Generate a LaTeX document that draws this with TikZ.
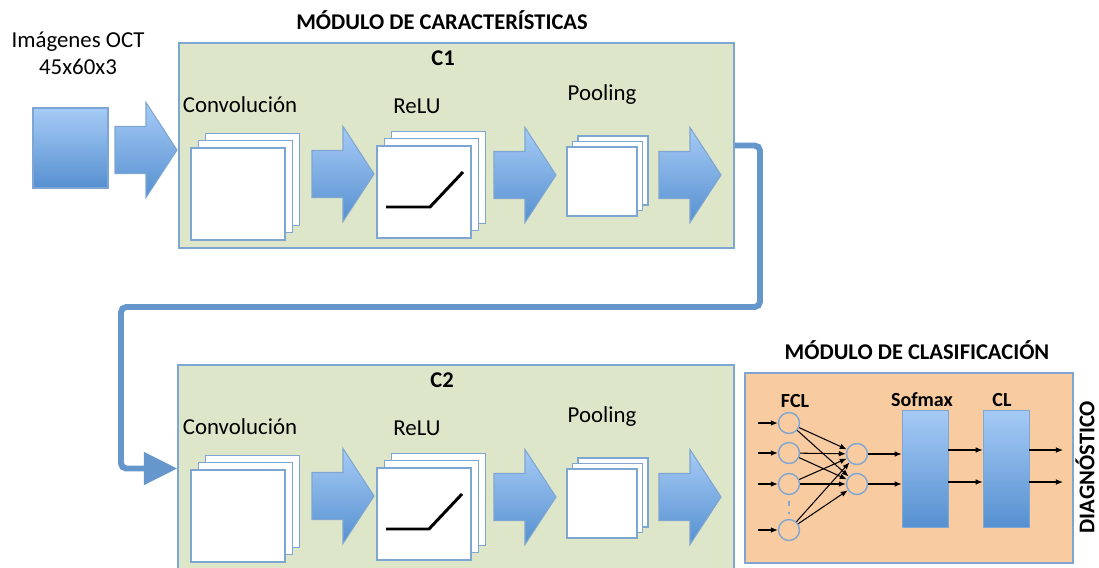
\documentclass[tikz,border=0pt]{standalone}
\usepackage{fontspec}
\setmainfont{Carlito}
\usetikzlibrary{arrows.meta,fit,calc}

\definecolor{modgreen}{RGB}{221,230,201}
\definecolor{modpeach}{RGB}{249,203,160}
\definecolor{boxedge}{RGB}{126,166,211}
\definecolor{bluetop}{RGB}{166,203,246}
\definecolor{bluebot}{RGB}{86,144,208}
\definecolor{loopblue}{RGB}{101,150,204}

\tikzset{
	modbox/.style={draw=boxedge, line width=0.8pt, inner sep=0pt},
	layer/.style={draw=boxedge, fill=white, line width=0.8pt},
	blockarrow/.style={draw=boxedge, line width=0.6pt, top color=bluetop, bottom color=bluebot},
	bar/.style={draw=boxedge, line width=0.4pt, top color=bluetop, bottom color=bluebot, inner sep=0pt},
	txt/.style={font=\fontsize{13}{15.4}\selectfont, align=center},
	title/.style={font=\bfseries\fontsize{12.8}{14}\selectfont},
	smalltitle/.style={font=\bfseries\fontsize{11.4}{13}\selectfont},
	neuron/.style={circle, draw=boxedge, line width=0.8pt, minimum size=0.42cm, inner sep=0pt},
	wire/.style={-{Latex[length=4pt,width=3.2pt]}, line width=0.6pt},
	loopline/.style={loopblue, line width=3.4pt, rounded corners=3pt, -{Triangle[length=19pt,width=18pt]}},
}

% block arrow: (left x, middle y)
\def\fatarrow(#1,#2){\path[blockarrow] (#1,#2-23.5) -- ++(31,0) -- ++(0,-24) -- ++(31,47.5) -- ++(-31,47.5) -- ++(0,-24) -- ++(-31,0) -- cycle;}
% stack of maps: (front x, front y, width, height, offset)
\def\mapstack(#1,#2,#3,#4,#5){\foreach \k in {2,1,0} \draw[layer] (#1+\k*#5, #2-\k*#5) rectangle ++(#3,#4);}

\begin{document}
\begin{tikzpicture}[x=0.02cm, y=-0.02cm]
	\useasboundingbox (0,0) rectangle (1099,568);
	
	%%%%% INPUT %%%%%
	\node[txt] (img) at (78,53) {Imágenes OCT\\45x60x3};
	\path[blockarrow] (33,108) rectangle (108,188);
	\fatarrow(115,150)
	
	%%%%% C1 %%%%%
	\node[title] (feat) at (442,20) {MÓDULO DE CARACTERÍSTICAS};
	\node[modbox, fill=modgreen, fit={(179,43) (734,248)}] (c1) {};
	\node[title] (c1lab) at (443,58) {C1};
	\node[txt] (conv1) at (240,105) {Convolución};
	\node[txt] (relu1) at (417,106) {ReLU};
	\node[txt] (pool1) at (602,95) {Pooling};
	\mapstack(191,148,94,92,7.3)
	\mapstack(377,146,94,92,7.3)
	\mapstack(567,147,70,69,5.5)
	\draw[line width=1.7pt] (386,207) -- (430,207) -- (463,172);
	\fatarrow(312,174)
	\fatarrow(494,175)
	\fatarrow(659,175)
	
	%%%%% C2 %%%%%
	\node[modbox, fill=modgreen, fit={(178,365) (734,572)}] (c2) {};
	\node[title] (c2lab) at (442,380) {C2};
	\begin{scope}[shift={(0,322)}]
		\node[txt] (conv2) at (240,105) {Convolución};
		\node[txt] (relu2) at (417,106) {ReLU};
		\node[txt] (pool2) at (602,95) {Pooling};
		\mapstack(191,148,94,92,7.3)
		\mapstack(377,146,94,92,7.3)
		\mapstack(567,147,70,69,5.5)
		\draw[line width=1.7pt] (386,207) -- (429,207) -- (462,172);
		\fatarrow(312,174)
		\fatarrow(494,175)
		\fatarrow(659,175)
	\end{scope}
	
	% loop from C1 back to C2
	\coordinate (turnA) at (760,307);
	\coordinate (turnB) at (121,307);
	\draw[loopline] (c1.east) -| (turnA) -- (turnB) |- (c2.west);
	
	%%%%% CLASIFICACION %%%%%
	\node[title] (clas) at (917,350) {MÓDULO DE CLASIFICACIÓN};
	\node[modbox, fill=modpeach, fit={(745,373) (1073,563)}] (cm) {};
	\node[smalltitle] (fcl) at (795,401) {FCL};
	\node[smalltitle] (smlab) at (922,400) {Sofmax};
	\node[smalltitle] (cllab) at (1002,400) {CL};
	
	\node[neuron] (i1) at (789,423) {};
	\node[neuron] (i2) at (789,453) {};
	\node[neuron] (i3) at (789,484) {};
	\node[neuron] (i4) at (789,530) {};
	\node[neuron] (h1) at (857,454) {};
	\node[neuron] (h2) at (857,484) {};
	\draw[boxedge, dashed, line width=0.6pt] (789,501) -- (789,514);
	
	\node[bar, fit={(902,410) (948,527)}] (sm) {};
	\node[bar, fit={(983,410) (1029,527)}] (cl) {};
	
	\foreach \a in {1,...,4} {
		\coordinate (in\a) at (758,0 |- i\a);
		\draw[wire] (in\a) -- (i\a);
		\foreach \b in {1,2}
			\draw[wire] (i\a) -- (h\b);
	}
	\draw[wire] (h1) -- (sm.west |- h1);
	\draw[wire] (h2) -- (sm.west |- h2);
	\coordinate (o1) at (1063,450);
	\coordinate (o2) at (1063,482);
	\draw[wire] (sm.east |- o1) -- (cl.west |- o1);
	\draw[wire] (sm.east |- o2) -- (cl.west |- o2);
	\draw[wire] (cl.east |- o1) -- (o1);
	\draw[wire] (cl.east |- o2) -- (o2);
	
	\node[title, rotate=90, inner sep=0pt] (diag) at (1085,467) {DIAGNÓSTICO};
\end{tikzpicture}
\end{document}
